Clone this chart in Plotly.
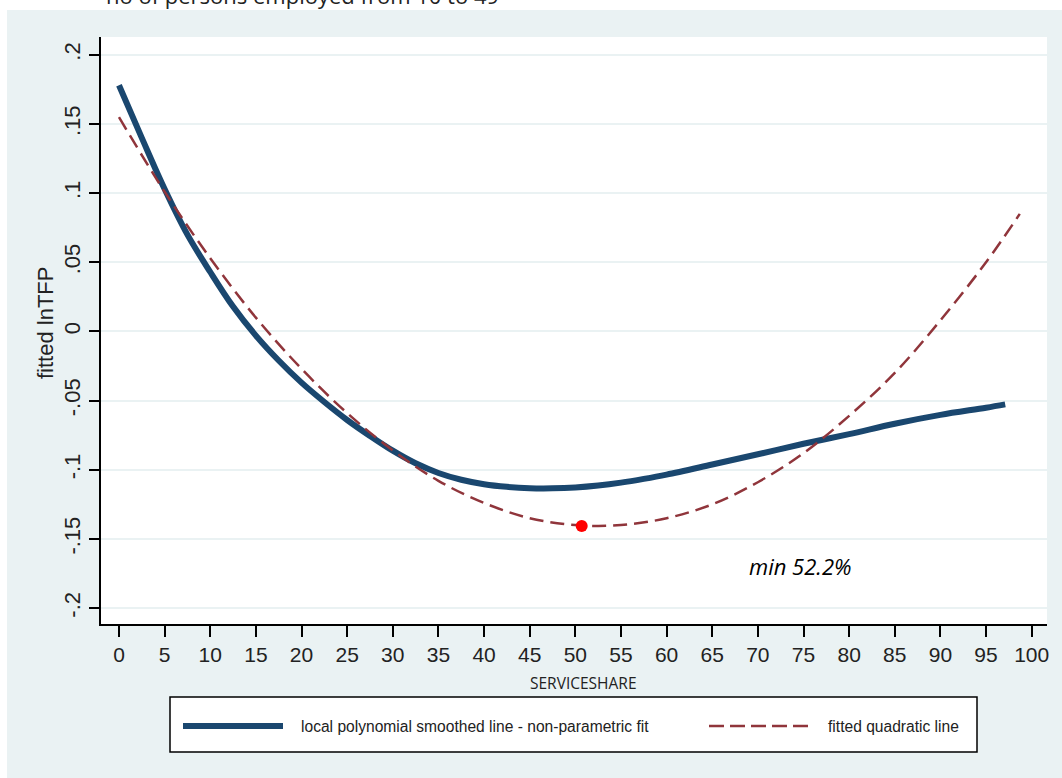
import plotly.graph_objects as go

# ---------------- data ----------------
share_smooth = [0, 2.5, 5, 7.5, 10, 12.5, 15, 17.5, 20, 22.5, 25, 27.5, 30, 32.5, 35,
                37.5, 40, 42.5, 45, 47.5, 50, 52.5, 55, 57.5, 60, 65, 70, 75, 80, 85,
                90, 95, 97.1]
tfp_smooth = [0.178, 0.140, 0.103, 0.070, 0.043, 0.018, -0.003, -0.021, -0.037, -0.051,
              -0.064, -0.0755, -0.0862, -0.0953, -0.1023, -0.1072, -0.1104, -0.1123, -0.1133,
              -0.1134, -0.1128, -0.1114, -0.1093, -0.1066, -0.1035, -0.0962, -0.0888, -0.0812,
              -0.0742, -0.0667, -0.0603, -0.0551, -0.0527]

share_quad = [0, 5, 10, 15, 20, 25, 30, 35, 40, 45, 50, 55, 60, 65, 70, 75, 80, 85, 90, 95, 98.7]
tfp_quad = [0.155, 0.101, 0.053, 0.010, -0.027, -0.059, -0.086, -0.108, -0.124, -0.135,
            -0.140, -0.140, -0.135, -0.125, -0.109, -0.088, -0.061, -0.030, 0.008, 0.050, 0.085]

min_share = [50.7]
min_tfp = [-0.1406]

x_ticks = list(range(0, 101, 5))
y_tickvals = [-0.2, -0.15, -0.1, -0.05, 0, 0.05, 0.1, 0.15, 0.2]
y_ticktext = ["-.2", "-.15", "-.1", "-.05", "0", ".05", ".1", ".15", ".2"]

legend_labels = ["local polynomial smoothed line - non-parametric fit", "fitted quadratic line"]
title_text = "no of persons employed from 10 to 49"
annot_text = "min 52.2%"

# ---------------- layout geometry ----------------
W, H = 1062, 778
ML, MR, MT, MB = 101, 15, 37, 154
PW, PH = W - ML - MR, H - MT - MB

def px(xp):
    return (xp - ML) / PW

def py(yp):
    return (H - MB - yp) / PH

NAVY = "#1a476f"
MAROON = "#90353b"
BG = "#EAF2F3"

fig = go.Figure()
fig.add_trace(go.Scatter(x=share_smooth, y=tfp_smooth, mode="lines", name=legend_labels[0],
                         line=dict(color=NAVY, width=6, shape="spline"), showlegend=False))
fig.add_trace(go.Scatter(x=share_quad, y=tfp_quad, mode="lines", name=legend_labels[1],
                         line=dict(color=MAROON, width=2.5, dash="14px,7px", shape="spline"),
                         showlegend=False))
fig.add_trace(go.Scatter(x=min_share, y=min_tfp, mode="markers",
                         marker=dict(color="red", size=12), showlegend=False))

shapes = []
# white strips outside the grey graph region
shapes.append(dict(type="rect", xref="paper", yref="paper", x0=px(0), x1=px(W), y0=py(10), y1=py(0),
                   fillcolor="white", line=dict(width=0), layer="below"))
shapes.append(dict(type="rect", xref="paper", yref="paper", x0=px(0), x1=px(7), y0=py(H), y1=py(0),
                   fillcolor="white", line=dict(width=0), layer="below"))
# white box behind annotation (hides grid line)
shapes.append(dict(type="rect", xref="paper", yref="paper", x0=px(730), x1=px(868), y0=py(596), y1=py(531),
                   fillcolor="white", line=dict(width=0), layer="between"))
# legend box
shapes.append(dict(type="rect", xref="paper", yref="paper", x0=px(170), x1=px(977), y0=py(752), y1=py(697),
                   fillcolor="white", line=dict(color="black", width=1.5)))
shapes.append(dict(type="line", xref="paper", yref="paper", x0=px(183), x1=px(283), y0=py(726), y1=py(726),
                   line=dict(color=NAVY, width=6)))
shapes.append(dict(type="line", xref="paper", yref="paper", x0=px(709), x1=px(810), y0=py(726), y1=py(726),
                   line=dict(color=MAROON, width=2.5, dash="15px,6px")))

annotations = [
    dict(text=title_text, xref="paper", yref="paper", x=px(105), y=py(11), xanchor="left", yanchor="bottom",
         showarrow=False, font=dict(family="Open Sans", size=22, color="#222"), borderpad=0),
    dict(text="fitted lnTFP", xref="paper", yref="paper", x=px(45), y=py(323), textangle=-90,
         xanchor="center", yanchor="middle", showarrow=False,
         font=dict(family="Liberation Sans", size=22, color="#222")),
    dict(text="SERVICESHARE", xref="paper", yref="paper", x=px(583), y=py(683),
         xanchor="center", yanchor="middle", showarrow=False,
         font=dict(family="Open Sans", size=15.5, color="#222")),
    dict(text="<i>" + annot_text + "</i>", xref="paper", yref="paper", x=px(800), y=py(566),
         xanchor="center", yanchor="middle", showarrow=False,
         font=dict(family="Open Sans", size=22, color="black")),
    dict(text=legend_labels[0], xref="paper", yref="paper", x=px(299), y=py(726),
         xanchor="left", yanchor="middle", showarrow=False,
         font=dict(family="Liberation Sans", size=15.6, color="#222")),
    dict(text=legend_labels[1], xref="paper", yref="paper", x=px(826), y=py(726),
         xanchor="left", yanchor="middle", showarrow=False,
         font=dict(family="Liberation Sans", size=15.6, color="#222")),
]

fig.update_layout(
    width=W, height=H,
    margin=dict(l=ML, r=MR, t=MT, b=MB, pad=0),
    paper_bgcolor=BG, plot_bgcolor="white",
    shapes=shapes, annotations=annotations,
    showlegend=False,
    xaxis=dict(range=[-1.97, 101.68], tickvals=x_ticks, showgrid=False, zeroline=False,
               showline=True, linecolor="black", linewidth=2,
               ticks="outside", ticklen=11, tickwidth=1.5, tickcolor="black",
               tickfont=dict(family="Liberation Sans", size=21, color="#222")),
    yaxis=dict(range=[-0.2115, 0.2129], tickvals=y_tickvals, ticktext=y_ticktext, tickangle=-90,
               showgrid=True, gridcolor=BG, gridwidth=1.5, zeroline=False,
               showline=True, linecolor="black", linewidth=2,
               ticks="outside", ticklen=10, tickwidth=1.5, tickcolor="black",
               tickfont=dict(family="Liberation Sans", size=22, color="#222")),
)

fig.write_html("out.html")
